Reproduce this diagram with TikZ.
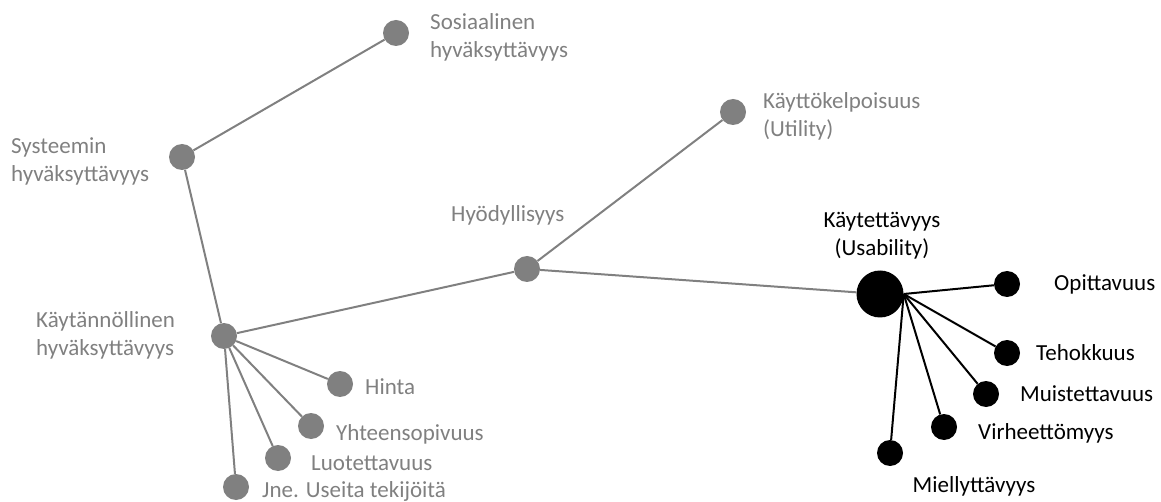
\documentclass[tikz,border=0pt]{standalone}
\usepackage{fontspec}
\setmainfont{Carlito}
\definecolor{gr}{HTML}{808080}
\tikzset{
  gdot/.style={circle,fill=gr,draw=none,minimum size=26pt,inner sep=0pt},
  bdot/.style={circle,fill=black,draw=none,minimum size=26pt,inner sep=0pt},
  bigdot/.style={circle,fill=black,draw=none,minimum size=47pt,inner sep=0pt},
  gtxt/.style={text=gr,inner sep=0pt,anchor=base west,align=left,font=\fontsize{23}{28}\selectfont},
  btxt/.style={text=black,inner sep=0pt,anchor=base west,align=left,font=\fontsize{23}{28}\selectfont},
  gline/.style={draw=gr,line width=2pt},
  bline/.style={draw=black,line width=2pt}
}
\begin{document}
\begin{tikzpicture}[x=1pt,y=-1pt]
\useasboundingbox (0,0) rectangle (1161,502);
% gray nodes
\node[gdot] (sos) at (396,33) {};
\node[gdot] (sys) at (182,157) {};
\node[gdot] (kay) at (224,336) {};
\node[gdot] (hyo) at (527,269) {};
\node[gdot] (kkp) at (733,112) {};
\node[gdot] (hin) at (340,384) {};
\node[gdot] (yht) at (311,426) {};
\node[gdot] (luo) at (278,458) {};
\node[gdot] (jne) at (236,487) {};
% black nodes
\node[bigdot] (use) at (880,294) {};
\node[bdot] (opi) at (1007,284) {};
\node[bdot] (teh) at (1007,353) {};
\node[bdot] (mui) at (986,394) {};
\node[bdot] (vir) at (944,427) {};
\node[bdot] (mie) at (890,453) {};
% edges
\draw[gline] (sys) -- (sos);
\draw[gline] (sys) -- (kay);
\draw[gline] (kay) -- (hyo);
\draw[gline] (hyo) -- (kkp);
\draw[gline] (hyo) -- (use);
\draw[gline] (kay) -- (hin);
\draw[gline] (kay) -- (yht);
\draw[gline] (kay) -- (luo);
\draw[gline] (kay) -- (jne);
\draw[bline] (use.east) -- (opi);
\draw[bline] (use.east) -- (teh);
\draw[bline] (use.east) -- (mui);
\draw[bline] (use.east) -- (vir);
\draw[bline] (use.east) -- (mie);
% labels (base = baseline of last line)
\node[gtxt] (sosl) at (430,58) {Sosiaalinen\\hyväksyttävyys};
\node[gtxt] (sysl) at (11,182) {Systeemin\\hyväksyttävyys};
\node[gtxt] (kayl) at (36,355) {Käytännöllinen\\hyväksyttävyys};
\node[gtxt] (hyol) at (451,222) {Hyödyllisyys};
\node[gtxt] (kkpl) at (763,137) {Käyttökelpoisuus\\(Utility)};
\node[gtxt] (hinl) at (365,394) {Hinta};
\node[gtxt] (yhtl) at (336,440) {Yhteensopivuus};
\node[gtxt] (luol) at (311,470) {Luotettavuus};
\node[gtxt] (jnel) at (262,497) {Jne. Useita tekijöitä};
\node[btxt,anchor=base,align=center] (usel) at (882,256) {Käytettävyys\\(Usability)};
\node[btxt] (opil) at (1054,291) {Opittavuus};
\node[btxt] (tehl) at (1036,360) {Tehokkuus};
\node[btxt] (muil) at (1020,401) {Muistettavuus};
\node[btxt] (virl) at (978,439) {Virheettömyys};
\node[btxt,anchor=base] (miel) at (974,492) {Miellyttävyys};
\end{tikzpicture}
\end{document}
